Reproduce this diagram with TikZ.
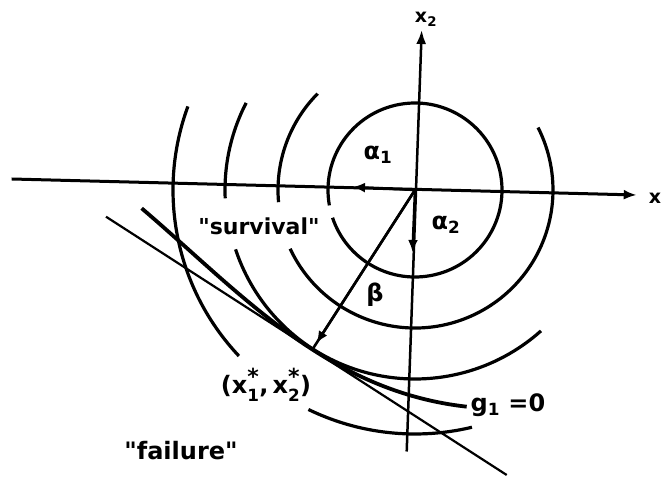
\documentclass[tikz,border=0pt]{standalone}
\usepackage{fontspec}
\setmainfont{DejaVu Sans}
\usepackage{amsmath}
\usetikzlibrary{arrows.meta}
\newcommand\carc[3]{\draw[circ] (O) ++(#1:#3pt) arc[start angle=#1, end angle=#2, radius=#3pt];}
\newcommand\qd{\textquotedbl}
\newcommand\bigast{\text{\fontsize{22}{22}\selectfont *}}
\begin{document}
\begin{tikzpicture}[x=1pt,y=1pt,
  circ/.style={line width=3.2pt},
  axisline/.style={line width=3pt,-{Latex[length=13pt,width=10pt]}},
  vaxisline/.style={line width=2.5pt,-{Latex[length=14pt,width=10pt]}},
  unitarrow/.style={line width=2.5pt,-{Latex[length=12pt,width=10pt]}},
  tangline/.style={line width=2.2pt},
  gline/.style={line width=3.8pt},
  lbl/.style={inner sep=0pt, font=\bfseries\fontsize{22}{24}\selectfont},
  big/.style={font=\bfseries\fontsize{24}{26}\selectfont},
  small/.style={font=\bfseries\fontsize{19}{21}\selectfont}]
\useasboundingbox (0,0) rectangle (665,477);
\coordinate (O) at (415,287);
% circles (contours of the standard normal density)
\carc{-169.8}{-521.4}{87}
\carc{135.3}{185.1}{137}
\carc{205.2}{386.9}{138}
\carc{152.7}{182.5}{190}
\carc{198.3}{311.8}{189}
\carc{159.8}{223.3}{242}
\carc{244.1}{283.5}{244}
% axes
\coordinate (xl) at (11.7,298);
\coordinate (xr) at (636.7,282);
\coordinate (yb) at (406.7,25.5);
\coordinate (yt) at (421.7,447);
\draw[axisline] (xl) -- (xr);
\draw[vaxisline] (yb) -- (yt);
% unit vector components
\coordinate (a1) at (353,290);
\coordinate (a2) at (412.5,225);
\draw[unitarrow] (O) -- (a1);
\draw[unitarrow] (O) -- (a2);
% design point and beta
\coordinate (D) at (312.4,127.5);
\coordinate (bt) at (316.5,133.9);
\draw[line width=2.6pt] (O) -- (D);
\draw[unitarrow] (O) -- (bt);
% tangent (linearised) limit state
\coordinate (la) at (106,260.3);
\coordinate (lb) at (506.7,2);
\draw[tangline] (la) -- (lb);
% limit state g1 = 0
\draw[gline] plot[domain=-2.2:1.607, samples=80, smooth, variable=\u]
  ({312.4+84.1*\u+0.541*(10.22*\u*\u+2.168*\u*\u*\u)},
   {127.5-54.1*\u+0.841*(10.22*\u*\u+2.168*\u*\u*\u)});
% labels
\node[lbl,small] (lx) at (655,279) {x};
\node[lbl,small] (lx2) at (426,458) {x\textsubscript{2}};
\node[lbl,big] (la1) at (378,322) {α\textsubscript{1}};
\node[lbl,big] (la2) at (446,252) {α\textsubscript{2}};
\node[lbl,big] (lbeta) at (375,182) {β};
\node[lbl] (ls) at (259,251) {\qd survival\qd};
\node[lbl,big] (lf) at (181,26) {\qd failure\qd};
\node[lbl,big] (ld) at (266,92) {(x$_{\text{1}}^{\bigast}$,\,x$_{\text{2}}^{\bigast}$)};
\node[lbl,big] (lg) at (508,72) {g\textsubscript{1} =0};
\end{tikzpicture}
\end{document}
